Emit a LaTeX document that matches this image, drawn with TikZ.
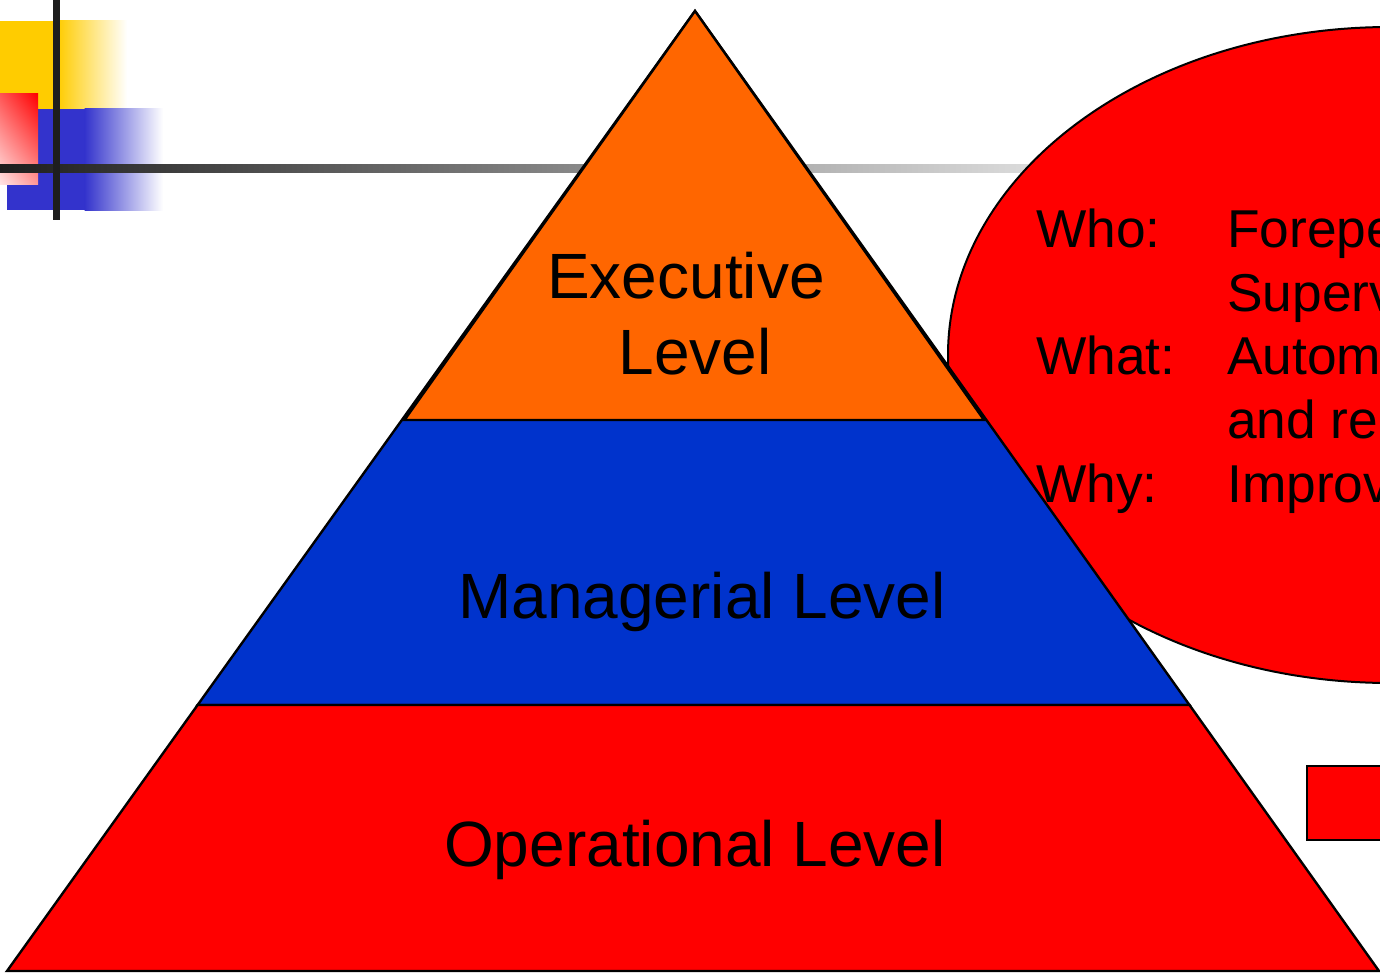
\documentclass[tikz,border=0pt]{standalone}
\usepackage{fontspec}
\usetikzlibrary{shadings}
\setmainfont{Liberation Sans}
\definecolor{decoyellow}{RGB}{255,204,0}
\definecolor{decoblue}{RGB}{51,51,204}
\definecolor{decored}{RGB}{255,0,0}
\definecolor{redul}{RGB}{255,85,85}
\definecolor{redll}{RGB}{255,228,228}
\definecolor{redlr}{RGB}{255,150,150}
\definecolor{darkbar}{RGB}{30,30,30}
\definecolor{lightbar}{RGB}{222,222,222}
\definecolor{pyrorange}{RGB}{255,102,0}
\definecolor{pyrblue}{RGB}{0,51,204}
\definecolor{pyrred}{RGB}{255,0,0}
\tikzset{
  level/.style={draw=black, line width=2.4pt, line join=miter},
  pyrtext/.style={inner sep=0pt, anchor=base, font=\fontsize{64}{76}\selectfont},
  elltext/.style={inner sep=0pt, anchor=base west, font=\fontsize{53.3}{64}\selectfont},
}
\begin{document}
\begin{tikzpicture}[x=1pt,y=-1pt]
\useasboundingbox (0,0) rectangle (1380,979);
\clip (0,0) rectangle (1380,979);
% decoration top-left
\fill[decoyellow] (0,21) rectangle (58,110);
\shade[left color=decoyellow, right color=white] (57.5,21) rectangle (127,110);
\fill[decoblue] (7,109) rectangle (85,210);
\shade[left color=decoblue, right color=white] (84.5,109) rectangle (163,210);
\shade[upper left=redul, upper right=decored, lower left=redll, lower right=redlr] (0,94) rectangle (38,184);
\shade[left color=darkbar, right color=lightbar] (0,164) rectangle (1045,172);
\fill[darkbar] (53,0) rectangle (60,220);
% ellipse
\coordinate (ec) at (1390,355);
\draw[fill=pyrred, draw=black, line width=2pt] (ec) ellipse [x radius=442, y radius=328];
% pyramid
\coordinate (apex) at (695,11);
\coordinate (ml) at (197.6,705);
\coordinate (mr) at (1189.5,705);
\coordinate (bl) at (7,971);
\coordinate (br) at (1379,971);
\coordinate (tl) at (404.5,420);
\coordinate (tr) at (984,420);
\draw[level, fill=pyrblue] (apex) -- (ml) -- (mr) -- cycle;
\draw[level, fill=pyrorange] (apex) -- (tl) -- (tr) -- cycle;
\draw[level, fill=pyrred] (ml) -- (mr) -- (br) -- (bl) -- cycle;
\node[pyrtext] (ex1) at (686,298) {Executive};
\node[pyrtext] (ex2) at (695,374) {Level};
\node[pyrtext] (man) at (702,618) {Managerial Level};
\node[pyrtext] (ope) at (695,866) {Operational Level};
% ellipse text
\node[elltext] (who) at (1036,247) {Who:};
\node[elltext] (who2) at (1227,247) {Forepe};
\node[elltext] (who3) at (1227,311) {Superv};
\node[elltext] (what) at (1036,374) {What:};
\node[elltext] (what2) at (1227,374) {Autom};
\node[elltext] (what3) at (1227,438) {and re};
\node[elltext] (why) at (1036,502) {Why:};
\node[elltext] (why2) at (1227,502) {Improv};
% rectangle
\draw[fill=pyrred, draw=black, line width=2.5pt] (1307,766) rectangle (1400,840);
\end{tikzpicture}
\end{document}
